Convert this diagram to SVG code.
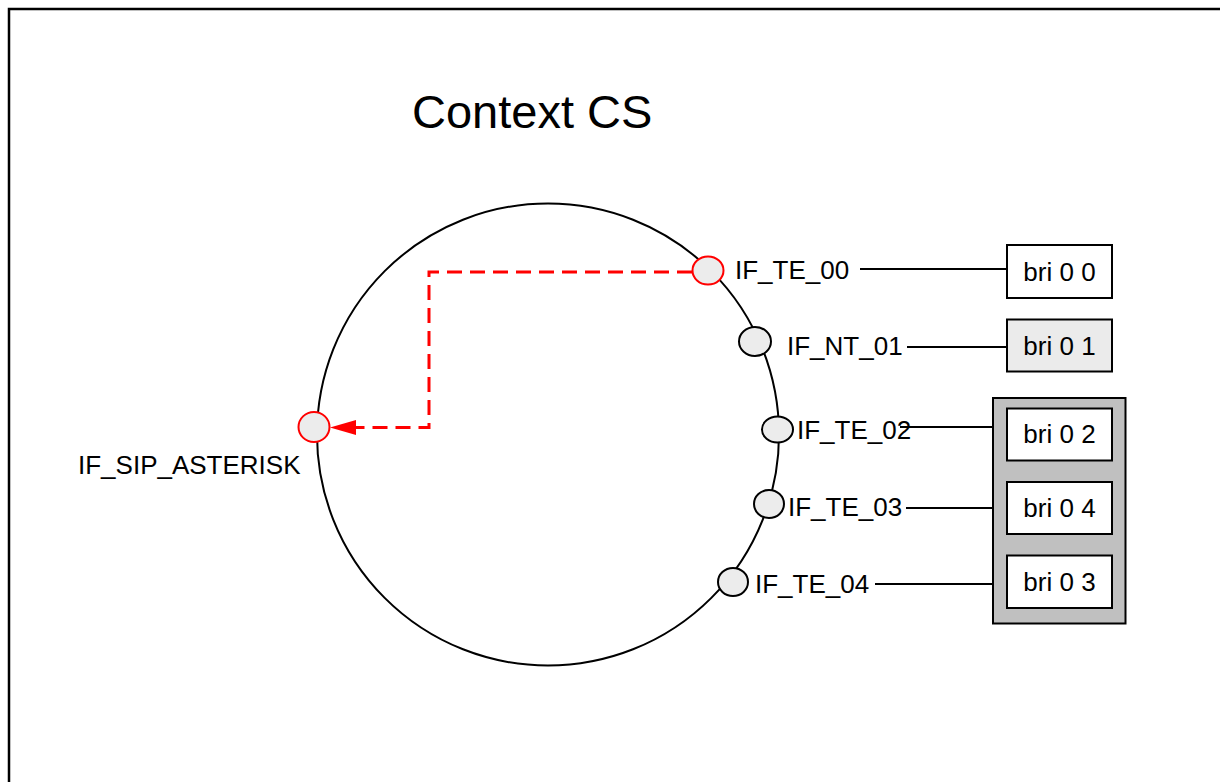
<svg xmlns="http://www.w3.org/2000/svg" width="1220" height="782" viewBox="0 0 1220 782">
<style>
text{font-family:"Liberation Sans",Arial,sans-serif;fill:#000}
.lbl{font-size:26px}
.box{stroke:#000;stroke-width:2}
.port{fill:#ececec;stroke:#000;stroke-width:2}
.portr{fill:#ececec;stroke:#ff0000;stroke-width:2}
.wire{stroke:#000;stroke-width:2;fill:none}
</style>
<rect width="1220" height="782" fill="#fff"/>
<path d="M9,782 L9,9 L1220,9" fill="none" stroke="#000" stroke-width="2.5"/>
<text x="412" y="128" font-size="47">Context CS</text>
<g id="context">
<circle cx="548" cy="434.5" r="231" fill="none" stroke="#000" stroke-width="2"/>
</g>
<g id="connectors">
<line class="wire" x1="860" y1="269" x2="1007" y2="269"/>
<line class="wire" x1="907" y1="347" x2="1007" y2="347"/>
<line class="wire" x1="900" y1="427" x2="993" y2="427"/>
<line class="wire" x1="906" y1="508" x2="993" y2="508"/>
<line class="wire" x1="875" y1="584" x2="993" y2="584"/>
<path d="M692,272 L429,272 L429,427.5 L355,427.5" fill="none" stroke="#ff0000" stroke-width="3" stroke-dasharray="15,8"/>
<path d="M330,427.5 L356,420 L356,435 z" fill="#ff0000"/>
</g>
<g id="IF_TE_00">
<ellipse class="portr" cx="708" cy="270.5" rx="15.5" ry="14"/>
<text class="lbl" x="735" y="279">IF_TE_00</text>
</g>
<g id="IF_NT_01">
<ellipse class="port" cx="755" cy="341.5" rx="16" ry="14.5"/>
<text class="lbl" x="787" y="355">IF_NT_01</text>
</g>
<g id="IF_TE_02">
<ellipse class="port" cx="777.5" cy="429.5" rx="15.5" ry="13"/>
<text class="lbl" x="797" y="439">IF_TE_02</text>
</g>
<g id="IF_TE_03">
<ellipse class="port" cx="769" cy="504" rx="15" ry="14"/>
<text class="lbl" x="788" y="516">IF_TE_03</text>
</g>
<g id="IF_TE_04">
<ellipse class="port" cx="733" cy="582" rx="15" ry="14"/>
<text class="lbl" x="755" y="593">IF_TE_04</text>
</g>
<g id="IF_SIP_ASTERISK">
<ellipse class="portr" cx="314" cy="427" rx="15.5" ry="15"/>
<text class="lbl" x="78" y="474">IF_SIP_ASTERISK</text>
</g>
<g id="bri00">
<rect class="box" x="1007" y="245" width="105" height="53" fill="#fff"/>
<text class="lbl" x="1059.5" y="281" text-anchor="middle">bri 0 0</text>
</g>
<g id="bri01">
<rect class="box" x="1007" y="319.5" width="105" height="52" fill="#ebebeb"/>
<text class="lbl" x="1059.5" y="355" text-anchor="middle">bri 0 1</text>
</g>
<g id="group">
<rect class="box" x="993" y="398" width="132.5" height="225.5" fill="#c0c0c0"/>
</g>
<g id="bri02">
<rect class="box" x="1007" y="408.5" width="105" height="52" fill="#fff"/>
<text class="lbl" x="1059.5" y="443" text-anchor="middle">bri 0 2</text>
</g>
<g id="bri04">
<rect class="box" x="1007" y="482" width="105" height="52" fill="#fff"/>
<text class="lbl" x="1059.5" y="517" text-anchor="middle">bri 0 4</text>
</g>
<g id="bri03">
<rect class="box" x="1007" y="555.5" width="105" height="52.5" fill="#fff"/>
<text class="lbl" x="1059.5" y="591" text-anchor="middle">bri 0 3</text>
</g>
</svg>
